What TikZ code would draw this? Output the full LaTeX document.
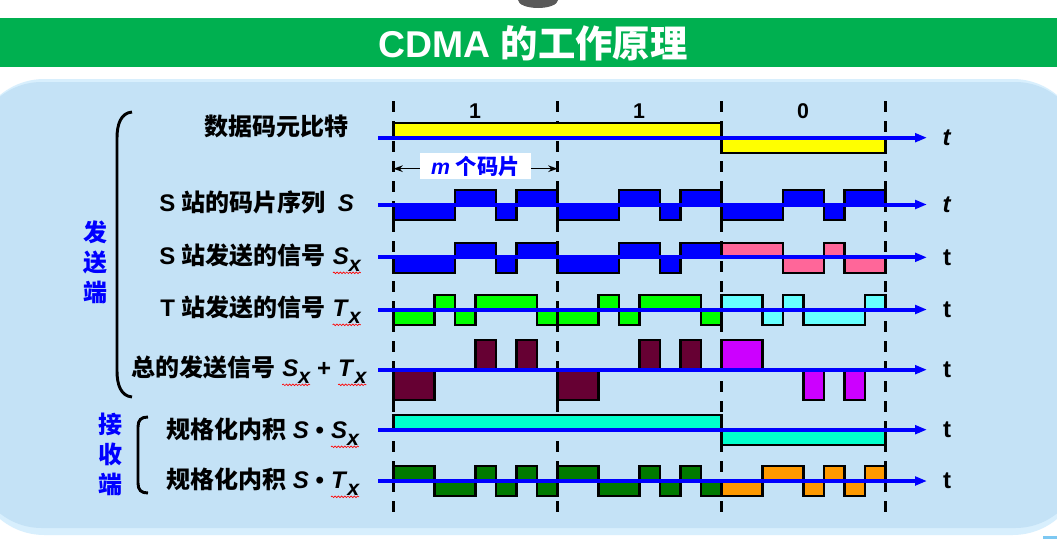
\documentclass[tikz,border=0pt]{standalone}
\usepackage{fontspec}
\setmainfont{Liberation Sans}
\newfontfamily\cjk{Noto Sans CJK SC}
\usetikzlibrary{arrows.meta,decorations.pathmorphing}
\definecolor{bandgreen}{HTML}{00B050}
\definecolor{panelfill}{HTML}{C4E2F6}
\definecolor{panelrim}{HTML}{D8EFFD}
\definecolor{axblue}{HTML}{0000FF}
\definecolor{wyellow}{HTML}{FFFF00}
\definecolor{wblue}{HTML}{0000FF}
\definecolor{wpink}{HTML}{FF6699}
\definecolor{wgreen}{HTML}{00FF00}
\definecolor{wcyan}{HTML}{66FFFF}
\definecolor{wmaroon}{HTML}{660033}
\definecolor{wmagenta}{HTML}{CC00FF}
\definecolor{waqua}{HTML}{00FFCC}
\definecolor{wdkgreen}{HTML}{007A00}
\definecolor{worange}{HTML}{FF9900}
\definecolor{cornerblue}{HTML}{7DC8F2}
\newcommand\rw[1]{\tikz[baseline=(q.base)]{\node[inner sep=0pt,outer sep=0pt] (q) {#1};
  \draw[red,line width=0.5pt,decorate,decoration={snake,amplitude=0.6pt,segment length=2.4pt}] ([yshift=-1.2pt]q.south west) -- ([yshift=-1.2pt]q.south east);}}
\newcommand\subx{\raisebox{-0.3em}{\fontsize{16}{16}\selectfont\itshape x}}
\newcommand\Sx{\rw{\textit{S}\subx}}
\newcommand\Tx{\rw{\textit{T}\subx}}
% #1 centre y, #2 first chip, #3 colour, #4 chip values
\newcommand\bitwave[4]{%
  \draw[wf, fill=#3] ({393.5+20.5*#2},#1)
    \foreach \v [count=\i from #2] in {#4} {
      -- ({393.5+20.5*\i},{#1-15*(\v)}) -- ({393.5+20.5*(\i+1)},{#1-15*(\v)}) }
    -- ({393.5+20.5*(#2+8)},#1) -- cycle;}
\begin{document}
\begin{tikzpicture}[x=0.75pt,y=-0.75pt,
  wf/.style={draw=black,line width=2.2pt,line join=miter},
  axisline/.style={draw=axblue,line width=3pt,-{Triangle[length=9pt,width=6.5pt]}},
  bitline/.style={draw=black,line width=2pt,dash pattern=on 8.25pt off 6.75pt},
  lab/.style={anchor=base west,inner sep=0pt,font=\fontsize{18}{22}\selectfont\bfseries},
  tlab/.style={inner sep=0pt,font=\fontsize{18}{22}\selectfont\bfseries},
  bitlab/.style={inner sep=0pt,font=\fontsize{16}{20}\selectfont\bfseries},
  side/.style={inner sep=0pt,align=center,text=axblue,font=\cjk\fontsize{18}{22.5}\selectfont\bfseries},
  brace/.style={draw=black,line width=2.2pt}
  ]
\useasboundingbox (0,0) rectangle (1057,539);
% top band and blob
\fill[white] (0,0) rectangle (1057,539);
\fill[black!65] (538,0) ellipse [x radius=15pt, y radius=6pt];
\fill[bandgreen] (0,18) rectangle (1057,67);
\node[text=white,inner sep=0pt,font=\fontsize{28}{32}\selectfont\bfseries] (title) at (533,43) {CDMA {\cjk 的工作原理}};
% panel
\fill[panelrim, rounded corners=52pt] (-25,79) rectangle (1082,535);
\fill[panelfill, rounded corners=50pt] (-25,82) rectangle (1082,528);
\fill[cornerblue] (1043,536) rectangle (1057,539);
% dashed bit boundaries
\foreach \k/\xx in {1/393.5,2/557.5,3/721.5,4/885.5}{
  \coordinate (v\k t) at (\xx,101);
  \coordinate (v\k b) at (\xx,512);
  \draw[bitline] (v\k t) -- (v\k b);
}
% bit labels
\node[bitlab] (b1) at (475,111) {1};
\node[bitlab] (b2) at (639,111) {1};
\node[bitlab] (b3) at (803,111) {0};
% m chips arrow
\coordinate (ml) at (393.5,168.7);
\coordinate (mr) at (557.5,168.7);
\draw[line width=1pt,{Stealth[length=7pt,width=5pt]}-{Stealth[length=7pt,width=5pt]}] (ml) -- (mr);
\node[fill=white,inner sep=0pt,minimum width=83pt,minimum height=19.5pt,text=axblue,font=\fontsize{16}{20}\selectfont\bfseries] (mbox) at (475.5,166) {\textit{m} {\cjk 个码片}};
% row 1: data bits
\draw[wf, fill=wyellow] (393.5,138) -- (393.5,123) -- (721.5,123) -- (721.5,138) -- cycle;
\draw[wf, fill=wyellow] (721.5,138) -- (721.5,153) -- (885.5,153) -- (885.5,138) -- cycle;
% row 2: S chip sequence
\bitwave{205}{0}{wblue}{-1,-1,-1,1,1,-1,1,1}
\bitwave{205}{8}{wblue}{-1,-1,-1,1,1,-1,1,1}
\bitwave{205}{16}{wblue}{-1,-1,-1,1,1,-1,1,1}
% row 3: S_x
\bitwave{258}{0}{wblue}{-1,-1,-1,1,1,-1,1,1}
\bitwave{258}{8}{wblue}{-1,-1,-1,1,1,-1,1,1}
\bitwave{258}{16}{wpink}{1,1,1,-1,-1,1,-1,-1}
% row 4: T_x
\bitwave{310}{0}{wgreen}{-1,-1,1,-1,1,1,1,-1}
\bitwave{310}{8}{wgreen}{-1,-1,1,-1,1,1,1,-1}
\bitwave{310}{16}{wcyan}{1,1,-1,1,-1,-1,-1,1}
% row 5: S_x + T_x
\bitwave{370}{0}{wmaroon}{-2,-2,0,0,2,0,2,0}
\bitwave{370}{8}{wmaroon}{-2,-2,0,0,2,0,2,0}
\bitwave{370}{16}{wmagenta}{2,2,0,0,-2,0,-2,0}
% row 6: S . S_x
\draw[wf, fill=waqua] (393.5,430) -- (393.5,415) -- (721.5,415) -- (721.5,430) -- cycle;
\draw[wf, fill=waqua] (721.5,430) -- (721.5,445) -- (885.5,445) -- (885.5,430) -- cycle;
% row 7: S . T_x
\bitwave{481}{0}{wdkgreen}{1,1,-1,-1,1,-1,1,-1}
\bitwave{481}{8}{wdkgreen}{1,1,-1,-1,1,-1,1,-1}
\bitwave{481}{16}{worange}{-1,-1,1,1,-1,1,-1,1}
% axes and t labels
\foreach \r/\yy/\tt in {1/137.7/\textit{t},2/204.5/\textit{t},3/257.3/t,4/309.5/t,5/369.7/t,6/429.7/t,7/481/t}{
  \coordinate (a\r s) at (378,\yy);
  \coordinate (a\r e) at (927,\yy);
  \draw[axisline] (a\r s) -- (a\r e);
  \node[tlab] (t\r) at (947,\yy) {\tt};
}
% row labels
\node[lab] (l1) at (204,135) {\cjk 数据码元比特};
\node[lab] (l2) at (159,211) {S {\cjk 站的码片序列}\hspace{4pt} \textit{S}};
\node[lab] (l3) at (159,264) {S {\cjk 站发送的信号} \Sx};
\node[lab] (l4) at (160,316) {T {\cjk 站发送的信号} \Tx};
\node[lab] (l5) at (131,376) {{\cjk 总的发送信号} \Sx{} + \Tx};
\node[lab] (l6) at (166,438) {{\cjk 规格化内积} \textit{S} • \Sx};
\node[lab] (l7) at (166,488) {{\cjk 规格化内积} \textit{S} • \Tx};
% braces and side labels
\draw[brace] (132,112) .. controls (121,113) and (117,124) .. (117,138) -- (117,371) .. controls (117,385) and (121,396) .. (132,397);
\draw[brace] (148,417) .. controls (141,417) and (138,420) .. (138,427) -- (138,483) .. controls (138,490) and (141,493) .. (148,493);
\node[side] (send) at (95,262) {发\\送\\端};
\node[side] (recv) at (110,454) {接\\收\\端};
\end{tikzpicture}
\end{document}
